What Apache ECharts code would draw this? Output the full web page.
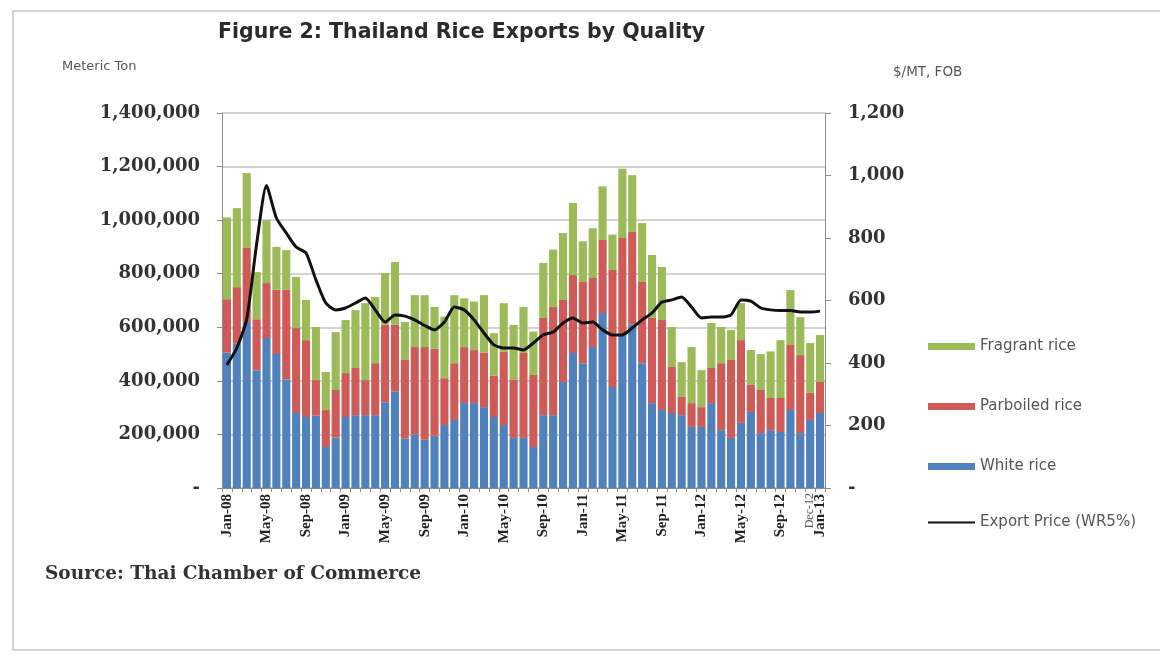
<!DOCTYPE html>
<html>
<head>
<meta charset="utf-8">
<script src="https://cdn.jsdelivr.net/npm/echarts@6/dist/echarts.min.js"></script>
<style>
  html, body { margin: 0; padding: 0; background: #fff; }
  #chart { width: 1160px; height: 655px; }
</style>
</head>
<body>
<div id="chart"></div>
<script>
// Monthly categories, Jan-08 .. Jan-13
const months = [
  'Jan-08','Feb-08','Mar-08','Apr-08','May-08','Jun-08','Jul-08','Aug-08','Sep-08','Oct-08','Nov-08','Dec-08',
  'Jan-09','Feb-09','Mar-09','Apr-09','May-09','Jun-09','Jul-09','Aug-09','Sep-09','Oct-09','Nov-09','Dec-09',
  'Jan-10','Feb-10','Mar-10','Apr-10','May-10','Jun-10','Jul-10','Aug-10','Sep-10','Oct-10','Nov-10','Dec-10',
  'Jan-11','Feb-11','Mar-11','Apr-11','May-11','Jun-11','Jul-11','Aug-11','Sep-11','Oct-11','Nov-11','Dec-11',
  'Jan-12','Feb-12','Mar-12','Apr-12','May-12','Jun-12','Jul-12','Aug-12','Sep-12','Oct-12','Nov-12','Dec-12',
  'Jan-13'
];

// Export volumes by quality, metric tons
const whiteRice = [
  505000,540000,620000,440000,560000,500000,405000,280000,265000,270000,153000,188000,
  265000,272000,272000,272000,320000,360000,185000,200000,180000,195000,235000,254000,
  317000,317000,302000,265000,235000,187000,187000,153000,272000,272000,396000,504000,
  466000,526000,653000,377000,575000,610000,466000,317000,291000,280000,272000,228000,
  228000,317000,216000,187000,243000,284000,205000,216000,209000,291000,205000,254000,
  280000
];
const parboiledRice = [
  200000,210000,276000,190000,205000,240000,335000,317000,287000,133000,138000,178000,
  164000,176000,131000,194000,290000,250000,293000,326000,346000,325000,175000,212000,
  209000,198000,204000,155000,275000,218000,317000,269000,363000,404000,306000,291000,
  303000,258000,273000,437000,358000,346000,303000,318000,336000,172000,68000,89000,
  74000,131000,250000,291000,309000,101000,161000,120000,127000,243000,291000,101000,
  116000
];
const fragrantRice = [
  305000,295000,280000,176000,235000,160000,148000,191000,150000,198000,142000,216000,
  198000,216000,287000,247000,192000,234000,142000,194000,194000,156000,230000,254000,
  182000,181000,214000,158000,180000,204000,172000,162000,205000,214000,250000,269000,
  152000,186000,200000,132000,259000,212000,220000,235000,198000,149000,130000,209000,
  138000,168000,135000,112000,138000,130000,134000,174000,216000,205000,142000,186000,
  175000
];

// Export price, white rice 5% broken, $/MT FOB
const exportPrice = [
  394,448,540,780,968,864,816,771,752,666,592,570,
  576,592,608,570,531,554,550,538,520,506,531,579,
  570,538,496,458,448,448,442,464,490,499,528,544,
  528,531,506,490,490,512,538,560,595,602,611,579,
  544,547,547,554,602,598,576,570,568,568,563,563,
  566
];

// Axis scales
const volumeAxis = { min: 0, max: 1400000, interval: 200000 };
const priceAxis = { min: 0, max: 1200, interval: 200 };

// Thin horizontal stroke used as the price legend key (bounding box 47 x 7)
const lineKey = 'path://M0,0L0.01,0Z M0,2.4H47V4.6H0Z M0,7L0.01,7Z';

const chart = echarts.init(document.getElementById('chart'), null, { renderer: 'canvas' });

const axisFont = { fontFamily: 'DejaVu Serif', fontWeight: 'bold', color: '#333' };
const tickFormat = (v) => v === 0 ? '-' : v.toLocaleString('en-US');
const monthFont = { fontFamily: 'Liberation Serif', fontWeight: 'bold', color: '#222' };
const legendText = { fontFamily: 'DejaVu Sans', fontSize: 15, color: '#555' };

chart.setOption({
  animation: false,
  backgroundColor: '#ffffff',
  graphic: [
    {
      type: 'rect', silent: true, z: -1,
      shape: { x: 13, y: 11, width: 1160, height: 639 },
      style: { fill: 'none', stroke: '#d4d4d4', lineWidth: 2 }
    },
    {
      type: 'text', left: 218, top: 22,
      style: { text: 'Figure 2: Thailand Rice Exports by Quality', fontFamily: 'DejaVu Sans', fontWeight: 'bold', fontSize: 20.5, fill: '#2b2b2b' }
    },
    {
      type: 'text', left: 62, top: 60,
      style: { text: 'Meteric Ton', fontFamily: 'DejaVu Sans', fontSize: 13, fill: '#555' }
    },
    {
      type: 'text', left: 893, top: 65,
      style: { text: '$/MT, FOB', fontFamily: 'DejaVu Sans', fontSize: 13.5, fill: '#555' }
    },
    {
      type: 'text', left: 45, top: 565,
      style: { text: 'Source: Thai Chamber of Commerce', fontFamily: 'DejaVu Serif', fontWeight: 'bold', fontSize: 18.5, fill: '#333' }
    }
  ],
  legend: [
    {
      orient: 'vertical',
      left: 928,
      top: 339,
      padding: 0,
      itemWidth: 47,
      itemHeight: 7,
      itemGap: 45,
      textStyle: legendText,
      data: [
        { name: 'Fragrant rice', icon: 'rect' },
        { name: 'Parboiled rice', icon: 'rect' },
        { name: 'White rice', icon: 'rect' }
      ]
    },
    {
      orient: 'vertical',
      left: 928,
      top: 515,
      padding: 0,
      itemWidth: 47,
      itemHeight: 7,
      textStyle: legendText,
      data: [
        { name: 'Export Price (WR5%)', icon: lineKey, itemStyle: { color: '#111' } }
      ]
    }
  ],
  grid: { left: 222, right: 335, top: 113, bottom: 167, containLabel: false },
  xAxis: [
    {
      type: 'category',
      data: months,
      boundaryGap: true,
      axisLine: { lineStyle: { color: '#8c8c8c', width: 1 } },
      axisTick: { show: true, interval: 0, length: 4, lineStyle: { color: '#8c8c8c' } },
      axisLabel: {
        rotate: 90,
        margin: 6,
        hideOverlap: false,
        showMaxLabel: true,
        interval: (i) => i % 4 === 0 || i === months.length - 1,
        ...monthFont, fontSize: 15
      }
    },
    {
      // second label row carrying the squeezed December label next to the last month
      type: 'category',
      data: months,
      boundaryGap: true,
      position: 'bottom',
      axisLine: { show: false },
      axisTick: { show: false },
      axisLabel: {
        rotate: 90,
        margin: 5,
        interval: (i) => i === months.length - 2,
        ...monthFont, fontWeight: 'normal', fontSize: 12, color: '#555'
      }
    }
  ],
  yAxis: [
    {
      type: 'value',
      min: volumeAxis.min, max: volumeAxis.max, interval: volumeAxis.interval,
      axisLine: { show: true, lineStyle: { color: '#8c8c8c' } },
      axisTick: { show: true, length: 5, lineStyle: { color: '#8c8c8c' } },
      splitLine: { show: true, lineStyle: { color: '#c4c4c4', width: 1.5 } },
      axisLabel: { margin: 22, ...axisFont, fontSize: 18, formatter: tickFormat }
    },
    {
      type: 'value',
      min: priceAxis.min, max: priceAxis.max, interval: priceAxis.interval,
      position: 'right',
      axisLine: { show: true, lineStyle: { color: '#8c8c8c' } },
      axisTick: { show: true, length: 6, lineStyle: { color: '#8c8c8c' } },
      splitLine: { show: false },
      axisLabel: { margin: 23, ...axisFont, fontSize: 18, formatter: tickFormat }
    }
  ],
  series: [
    {
      name: 'White rice', type: 'bar', stack: 'volume', data: whiteRice,
      barCategoryGap: '18%',
      itemStyle: { color: '#4f81bd' }
    },
    {
      name: 'Parboiled rice', type: 'bar', stack: 'volume', data: parboiledRice,
      itemStyle: { color: '#cf5b58' }
    },
    {
      name: 'Fragrant rice', type: 'bar', stack: 'volume', data: fragrantRice,
      itemStyle: { color: '#9bbb59' }
    },
    {
      name: 'Export Price (WR5%)', type: 'line', yAxisIndex: 1, data: exportPrice,
      symbol: 'none', smooth: 0.2, z: 5,
      lineStyle: { color: '#111', width: 3 },
      itemStyle: { color: '#111' }
    }
  ]
});
</script>
</body>
</html>
